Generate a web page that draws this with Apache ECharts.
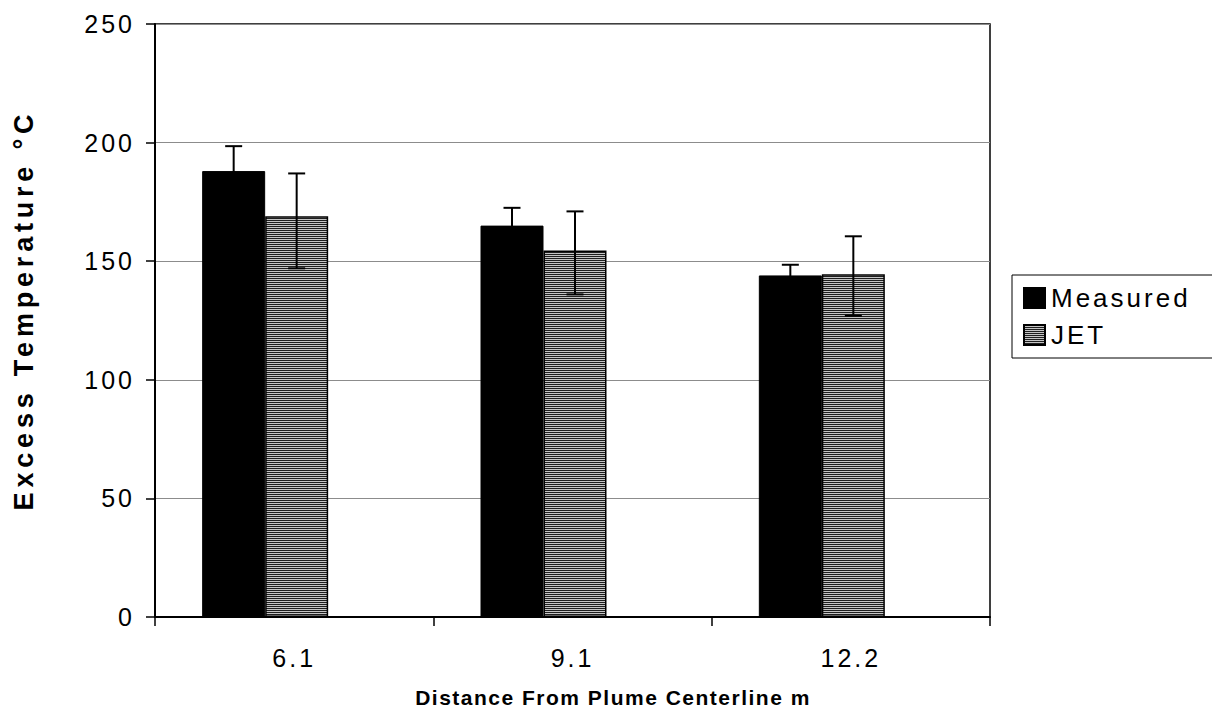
<!DOCTYPE html>
<html>
<head>
<meta charset="utf-8">
<script src="https://cdn.jsdelivr.net/npm/echarts@6/dist/echarts.min.js"></script>
<style>
  html, body { margin: 0; padding: 0; background: #fff; }
  #chart { width: 1212px; height: 714px; }
</style>
</head>
<body>
<div id="chart"></div>
<script>
// Excess temperature at three distances from the plume centerline
const categories = ['6.1', '9.1', '12.2'];
const measured = [188, 165, 144];
const measuredErrLow = [177.5, 157.5, 139.5];
const measuredErrHigh = [198.5, 172.5, 148.5];
const jet = [169, 154.5, 144.5];
const jetErrLow = [147, 136, 127];
const jetErrHigh = [187, 171, 160.5];
const yMin = 0, yMax = 250, yStep = 50;

const xTitle = 'Distance From Plume Centerline m';
const yTitle = 'Excess Temperature °C';

const FONT = '"Liberation Sans", Arial, Helvetica, sans-serif';
const BAR_W = 63;     // width of each drawn bar
const SPACER_W = 58;  // empty slot to the right of each pair
const clusterLeft = -(2 * BAR_W + SPACER_W) / 2;
const measuredOffset = clusterLeft + BAR_W / 2;
const jetOffset = clusterLeft + BAR_W * 1.5;

// horizontal-line hatch used for the JET bars
function hatch() {
  const c = document.createElement('canvas');
  c.width = 4; c.height = 2;
  const g = c.getContext('2d');
  g.fillStyle = '#c4c4c4'; g.fillRect(0, 0, 4, 2);
  g.fillStyle = '#1e1e1e'; g.fillRect(0, 0, 4, 1);
  return c;
}

function errorBars(lows, highs, offset) {
  return {
    type: 'custom',
    z: 5,
    silent: true,
    data: lows.map((lo, i) => [i, lo, highs[i]]),
    encode: { x: 0, y: [1, 2] },
    renderItem: function (params, api) {
      const x = api.coord([api.value(0), 0])[0] + offset;
      const yLo = api.coord([api.value(0), api.value(1)])[1];
      const yHi = api.coord([api.value(0), api.value(2)])[1];
      const cap = 8.5;
      const st = { stroke: '#000', lineWidth: 2 };
      return {
        type: 'group',
        children: [
          { type: 'line', shape: { x1: x, y1: yLo, x2: x, y2: yHi }, style: st },
          { type: 'line', shape: { x1: x - cap, y1: yHi, x2: x + cap, y2: yHi }, style: st },
          { type: 'line', shape: { x1: x - cap, y1: yLo, x2: x + cap, y2: yLo }, style: st }
        ]
      };
    }
  };
}

const chart = echarts.init(document.getElementById('chart'), null, { renderer: 'svg' });

chart.setOption({
  animation: false,
  backgroundColor: '#fff',
  grid: {
    left: 155, right: 222, top: 24, bottom: 97,
    show: true, borderColor: '#000', borderWidth: 1.5, backgroundColor: 'transparent'
  },
  legend: {
    data: ['Measured', 'JET'],
    orient: 'vertical',
    left: 1012, top: 275,
    icon: 'rect',
    selectedMode: false,
    borderColor: '#000', borderWidth: 1,
    padding: [10, 60, 10, 11],
    itemWidth: 21, itemHeight: 20, itemGap: 11,
    textStyle: { fontFamily: FONT, fontSize: 26, color: '#000', padding: [0, 0, 0, 1] }
  },
  xAxis: {
    type: 'category',
    data: categories,
    axisLine: { lineStyle: { color: '#000', width: 2 } },
    axisTick: { show: true, length: 9, lineStyle: { color: '#000', width: 1.5 } },
    axisLabel: { fontFamily: FONT, fontSize: 25, color: '#000', margin: 28 },
    splitLine: { show: false }
  },
  yAxis: {
    type: 'value',
    min: yMin, max: yMax, interval: yStep,
    axisLine: { show: true, lineStyle: { color: '#000', width: 2 } },
    axisTick: { show: true, length: 9, lineStyle: { color: '#000', width: 1.5 } },
    axisLabel: { fontFamily: FONT, fontSize: 25, color: '#000', margin: 20 },
    splitLine: { lineStyle: { color: '#8c8c8c', width: 1 } }
  },
  graphic: [
    {
      type: 'text', x: 613, y: 697,
      style: {
        text: xTitle,
        font: 'bold 21px ' + FONT, fill: '#000',
        textAlign: 'center', textVerticalAlign: 'middle'
      }
    },
    {
      type: 'text', x: 24, y: 310, rotation: Math.PI / 2,
      style: {
        text: yTitle,
        font: 'bold 27px ' + FONT, fill: '#000',
        textAlign: 'center', textVerticalAlign: 'middle'
      }
    }
  ],
  series: [
    {
      name: 'Measured', type: 'bar', data: measured,
      barWidth: BAR_W, barGap: '0%', silent: true,
      itemStyle: { color: '#000', borderColor: '#000', borderWidth: 1 }
    },
    {
      name: 'JET', type: 'bar', data: jet,
      barWidth: BAR_W, barGap: '0%', silent: true,
      itemStyle: { color: { image: hatch(), repeat: 'repeat' }, borderColor: '#000', borderWidth: 1.5 }
    },
    {
      name: 'spacer', type: 'bar', data: categories.map(() => null),
      barWidth: SPACER_W, barGap: '0%', silent: true
    },
    errorBars(measuredErrLow, measuredErrHigh, measuredOffset),
    errorBars(jetErrLow, jetErrHigh, jetOffset)
  ]
});

// widen the tracking of the drawn text
function spaceText() {
  document.querySelectorAll('#chart text').forEach(function (t) {
    const s = t.textContent;
    let gap = '3px';
    if (s === xTitle) gap = '1.5px';
    else if (s === yTitle) gap = '4.8px';
    t.style.letterSpacing = gap;
  });
}
spaceText();
chart.on('finished', spaceText);
</script>
</body>
</html>
